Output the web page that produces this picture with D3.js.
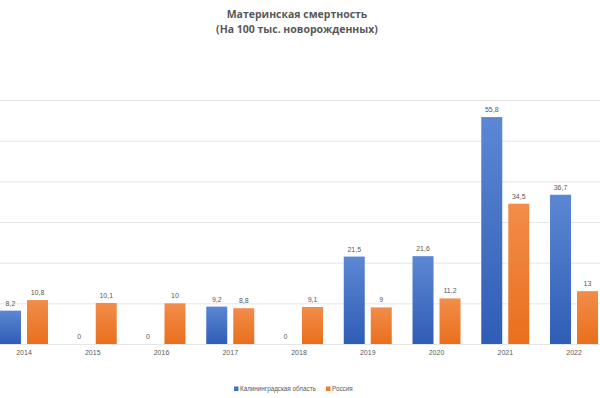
<!DOCTYPE html>
<html><head><meta charset="utf-8">
<script src="https://cdn.jsdelivr.net/npm/d3@7"></script>
<style>body{margin:0;background:#fff}svg{display:block}</style>
</head><body>
<svg id="c" width="600" height="398"></svg>
<script>
const years = ["2014","2015","2016","2017","2018","2019","2020","2021","2022"];
const kaliningrad = [8.2, 0, 0, 9.2, 0, 21.5, 21.6, 55.8, 36.7];
const russia = [10.8, 10.1, 10, 8.8, 9.1, 9, 11.2, 34.5, 13];
const seriesNames = ["Калининградская область", "Россия"];
const yTicks = [0, 10, 20, 30, 40, 50, 60];

const svg = d3.select("#c");
const defs = svg.append("defs");
function grad(id, top, bot){
  const g = defs.append("linearGradient").attr("id", id).attr("x1",0).attr("y1",0).attr("x2",0).attr("y2",1);
  g.append("stop").attr("offset","0%").attr("stop-color",top);
  g.append("stop").attr("offset","100%").attr("stop-color",bot);
}
grad("gb", "#5c87d3", "#2f5db6");
grad("go", "#f28d4a", "#e96f1c");

const x = d3.scaleBand().domain(years).range([-10.4, 608.4]).padding(0);
const y = d3.scaleLinear().domain([0, 60]).range([344, 100]);
const fmt = v => String(v).replace(".", ",");

// gridlines
svg.append("g").selectAll("line").data(yTicks).join("line")
  .attr("x1", 0).attr("x2", 600)
  .attr("y1", d => y(d) + 0.5).attr("y2", d => y(d) + 0.5)
  .attr("stroke", "#e6e6e6").attr("stroke-width", 1);

const bw = 21, gap = 6;
const series = [
  {name: seriesNames[0], vals: kaliningrad, fill: "url(#gb)", off: -gap/2 - bw},
  {name: seriesNames[1], vals: russia, fill: "url(#go)", off: gap/2}
];
series.forEach(s => {
  const g = svg.append("g");
  g.selectAll("rect").data(years).join("rect")
    .attr("x", (d,i) => x(d) + x.bandwidth()/2 + s.off)
    .attr("y", (d,i) => y(s.vals[i]))
    .attr("width", bw)
    .attr("height", (d,i) => y(0) - y(s.vals[i]))
    .attr("fill", s.fill);
  g.selectAll("text").data(years).join("text")
    .attr("x", (d,i) => x(d) + x.bandwidth()/2 + s.off + bw/2)
    .attr("y", (d,i) => y(s.vals[i]) - 5)
    .attr("text-anchor", "middle")
    .attr("font-family", "Liberation Sans, Arial, sans-serif")
    .attr("font-size", 7)
    .attr("fill", "#595959")
    .text((d,i) => fmt(s.vals[i]));
});

// x axis labels
const xAxis = d3.axisBottom(x).tickSize(0).tickPadding(6);
const ax = svg.append("g").attr("transform", `translate(0,${y(0)})`).call(xAxis);
ax.select(".domain").remove();
ax.selectAll("text").attr("font-family", "Liberation Sans, Arial, sans-serif").attr("font-size", 7).attr("fill", "#595959");

// title
const t = svg.append("text").attr("x", 297).attr("text-anchor", "middle")
  .attr("font-family", "Open Sans, Liberation Sans, sans-serif").attr("font-weight", "bold")
  .attr("font-size", 10.5).attr("fill", "#595959");
t.append("tspan").attr("x", 297).attr("y", 18).text("Материнская смертность");
t.append("tspan").attr("x", 297).attr("y", 33).text("(На 100 тыс. новорожденных)");

// legend
const leg = svg.append("g").attr("font-family", "Liberation Sans, Arial, sans-serif").attr("font-size", 6.3).attr("fill", "#595959");
const legItems = [{n: seriesNames[0], c: "#4472c4", x: 234}, {n: seriesNames[1], c: "#ed7d31", x: 326}];
legItems.forEach(l => {
  leg.append("rect").attr("x", l.x).attr("y", 386.5).attr("width", 4.5).attr("height", 4.5).attr("fill", l.c);
  leg.append("text").attr("x", l.x + 6).attr("y", 391).text(l.n);
});
</script>
</body></html>
